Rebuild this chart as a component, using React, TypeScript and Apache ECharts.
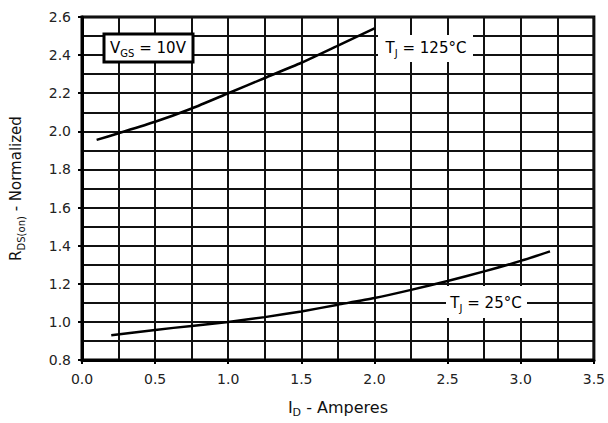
import React, { useEffect, useRef } from "react";
import * as echarts from "echarts";

// Drain current (A)
const id125 = [0.1, 0.25, 0.5, 0.75, 1.0, 1.25, 1.5, 1.75, 2.0];
// Normalized on-resistance at TJ = 125°C
const r125 = [1.955, 1.99, 2.05, 2.12, 2.2, 2.28, 2.36, 2.45, 2.54];

const id25 = [0.2, 0.5, 0.75, 1.0, 1.25, 1.5, 1.75, 2.0, 2.25, 2.5, 2.75, 3.0, 3.2];
// Normalized on-resistance at TJ = 25°C
const r25 = [0.93, 0.958, 0.979, 1.0, 1.025, 1.055, 1.09, 1.125, 1.168, 1.215, 1.265, 1.32, 1.37];

const xTicks = { min: 0, max: 3.5, step: 0.5 };
const yTicks = { min: 0.8, max: 2.6, step: 0.2 };

const FONT = "'DejaVu Sans', 'Liberation Sans', sans-serif";

const richFor = (main: number, sub: number, lh: number) => ({
  m: { fontSize: main, fontFamily: FONT, color: "#111", lineHeight: lh },
  s: { fontSize: sub, fontFamily: FONT, color: "#111", verticalAlign: "bottom", lineHeight: lh },
});

export default function App() {
  const ref = useRef<HTMLDivElement>(null);

  useEffect(() => {
    if (!ref.current) return;
    const chart = echarts.init(ref.current, undefined, { renderer: "svg" });

    const pair = (xs: number[], ys: number[]) => xs.map((x, i) => [x, ys[i]]);

    const gridLine = { show: true, lineStyle: { color: "#111", width: 2 } };
    const labelStyle = { color: "#222", fontSize: 14, fontFamily: FONT };
    const labelRich = richFor(15, 10, 21);

    chart.setOption({
      animation: false,
      backgroundColor: "#fff",
      grid: {
        left: 75,
        right: 13,
        top: 17,
        bottom: 60,
        show: true,
        borderColor: "#000",
        borderWidth: 3,
        backgroundColor: "transparent",
      },
      xAxis: {
        type: "value",
        min: xTicks.min,
        max: xTicks.max,
        interval: xTicks.step,
        axisLine: { show: true, onZero: false, lineStyle: { color: "#000", width: 3 } },
        axisTick: { show: true, length: 4, lineStyle: { color: "#000", width: 2 } },
        axisLabel: { ...labelStyle, margin: 12, formatter: (v: number) => v.toFixed(1) },
        splitLine: gridLine,
        minorTick: { show: false, splitNumber: 2 },
        minorSplitLine: gridLine,
        name: "{m|I}{s|D}{m| - Amperes}",
        nameLocation: "middle",
        nameGap: 36,
        nameTextStyle: { rich: richFor(16, 11, 22) },
      },
      yAxis: {
        type: "value",
        min: yTicks.min,
        max: yTicks.max,
        interval: yTicks.step,
        axisLine: { show: true, onZero: false, lineStyle: { color: "#000", width: 3 } },
        axisTick: { show: true, length: 4, lineStyle: { color: "#000", width: 2 } },
        axisLabel: { ...labelStyle, margin: 11, formatter: (v: number) => v.toFixed(1) },
        splitLine: gridLine,
        minorTick: { show: false, splitNumber: 2 },
        minorSplitLine: gridLine,
        name: "{m|R}{s|DS(on)}{m| - Normalized}",
        nameLocation: "middle",
        nameRotate: 90,
        nameGap: 56,
        nameTextStyle: { rich: richFor(15, 10, 21) },
      },
      series: [
        {
          type: "line",
          data: pair(id125, r125),
          smooth: 0.2,
          showSymbol: false,
          lineStyle: { color: "#000", width: 2.5 },
          z: 3,
        },
        {
          type: "line",
          data: pair(id25, r25),
          smooth: 0.2,
          showSymbol: false,
          lineStyle: { color: "#000", width: 2.5 },
          z: 3,
        },
      ],
      graphic: [
        {
          type: "rect",
          shape: { x: 104, y: 34, width: 89, height: 28 },
          style: { fill: "#fff", stroke: "#000", lineWidth: 3 },
          z: 10,
        },
        {
          type: "text",
          x: 148,
          y: 48,
          style: {
            text: "{m|V}{s|GS}{m| = 10V}",
            align: "center",
            verticalAlign: "middle",
            rich: labelRich,
          },
          z: 11,
        },
        {
          type: "rect",
          shape: { x: 378, y: 35, width: 95, height: 27 },
          style: { fill: "#fff" },
          z: 10,
        },
        {
          type: "text",
          x: 426,
          y: 48,
          style: {
            text: "{m|T}{s|J}{m| = 125°C}",
            align: "center",
            verticalAlign: "middle",
            rich: labelRich,
          },
          z: 11,
        },
        {
          type: "rect",
          shape: { x: 446, y: 286, width: 81, height: 32 },
          style: { fill: "#fff" },
          z: 10,
        },
        {
          type: "text",
          x: 486,
          y: 303,
          style: {
            text: "{m|T}{s|J}{m| = 25°C}",
            align: "center",
            verticalAlign: "middle",
            rich: labelRich,
          },
          z: 11,
        },
      ],
    });

    return () => chart.dispose();
  }, []);

  return <div ref={ref} style={{ width: 608, height: 423, position: "absolute", left: 0, top: 0 }} />;
}
